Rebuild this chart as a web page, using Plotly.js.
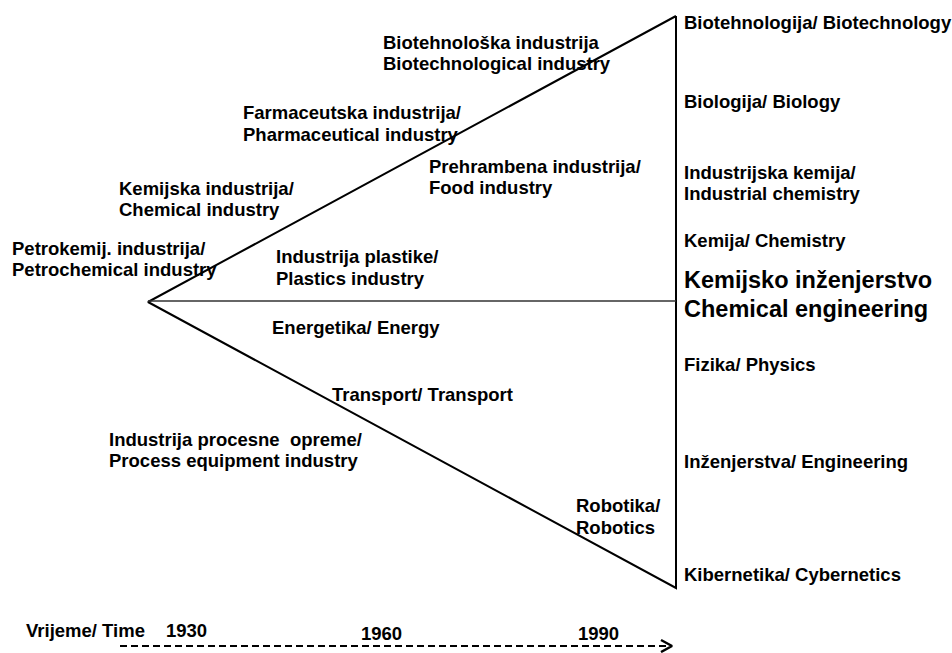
<!DOCTYPE html>
<html>
<head>
<meta charset="utf-8">
<script src="https://cdn.plot.ly/plotly-3.0.1.min.js"></script>
<style>html,body{margin:0;padding:0;background:#fff;}#chart{width:952px;height:653px;}</style>
</head>
<body>
<div id="chart"></div>
<script>
// Industry labels inside the wedge (one entry per text line)
var industryLabels = [
  "Biotehnološka industrija", "Biotechnological industry",
  "Farmaceutska industrija/", "Pharmaceutical industry",
  "Prehrambena industrija/", "Food industry",
  "Kemijska industrija/", "Chemical industry",
  "Petrokemij. industrija/", "Petrochemical industry",
  "Industrija plastike/", "Plastics industry",
  "Energetika/ Energy",
  "Transport/ Transport",
  "Industrija procesne  opreme/", "Process equipment industry",
  "Robotika/", "Robotics"
];
// Science labels on the right
var scienceLabels = [
  "Biotehnologija/ Biotechnology",
  "Biologija/ Biology",
  "Industrijska kemija/", "Industrial chemistry",
  "Kemija/ Chemistry",
  "Fizika/ Physics",
  "Inženjerstva/ Engineering",
  "Kibernetika/ Cybernetics"
];
var coreLabels = ["Kemijsko inženjerstvo", "Chemical engineering"];
var timeTitle = "Vrijeme/ Time";
var years = ["1930", "1960", "1990"];

// ---- layout positions (pixels in a 952x653 frame) ----
var indPos = [
  [383,42],[383,63],
  [243,112],[243,134],
  [429,166],[429,187],
  [119,188],[119,209],
  [12,248],[12,269],
  [276,256],[276,278],
  [272,327],
  [332,394],
  [109,439],[109,460],
  [576,505],[576,527]
];
var sciPos = [[684,22],[684,101],[684,172],[684,193],[684,240],[684,364],[684,461],[684,574]];
var corePos = [[684,280],[684,309]];
var timePos = [26,630];
var yearPos = [[166,630],[361,633],[578,633]];

var apex = [148,302], topV = [676,16], botV = [676,588];

var FONT = "Liberation Sans, Arial, sans-serif";
var ann = [];
function addText(t, p, size) {
  ann.push({x:p[0], y:p[1], xref:'x', yref:'y', text:'<b>'+t+'</b>', showarrow:false,
    xanchor:'left', yanchor:'middle', xshift:-2, font:{family:FONT, size:size, color:'#000'}});
}
industryLabels.forEach(function(t,i){ addText(t, indPos[i], 18.5); });
scienceLabels.forEach(function(t,i){ addText(t, sciPos[i], 18.5); });
coreLabels.forEach(function(t,i){ addText(t, corePos[i], 23.5); });
addText(timeTitle, timePos, 18.5);
years.forEach(function(t,i){ addText(t, yearPos[i], 18.5); });

var traces = [
  {x:[topV[0], apex[0], botV[0], topV[0]], y:[topV[1], apex[1], botV[1], topV[1]],
   mode:'lines', line:{color:'#000', width:2}, hoverinfo:'skip'},
  {x:[apex[0], 676], y:[301, 301], mode:'lines', line:{color:'#333', width:1.5}, hoverinfo:'skip'},
  {x:[120, 668], y:[646, 646], mode:'lines', line:{color:'#000', width:2, dash:'7px,4px'}, hoverinfo:'skip'},
  {x:[661, 672, 661], y:[640, 646, 652], mode:'lines', line:{color:'#000', width:2.5}, hoverinfo:'skip'}
];

var layout = {
  width:952, height:653, margin:{l:0,r:0,t:0,b:0},
  paper_bgcolor:'#fff', plot_bgcolor:'#fff', showlegend:false,
  xaxis:{range:[0,952], visible:false, fixedrange:true},
  yaxis:{range:[653,0], visible:false, fixedrange:true},
  annotations:ann
};
Plotly.newPlot('chart', traces, layout, {staticPlot:true});
</script>
</body>
</html>
